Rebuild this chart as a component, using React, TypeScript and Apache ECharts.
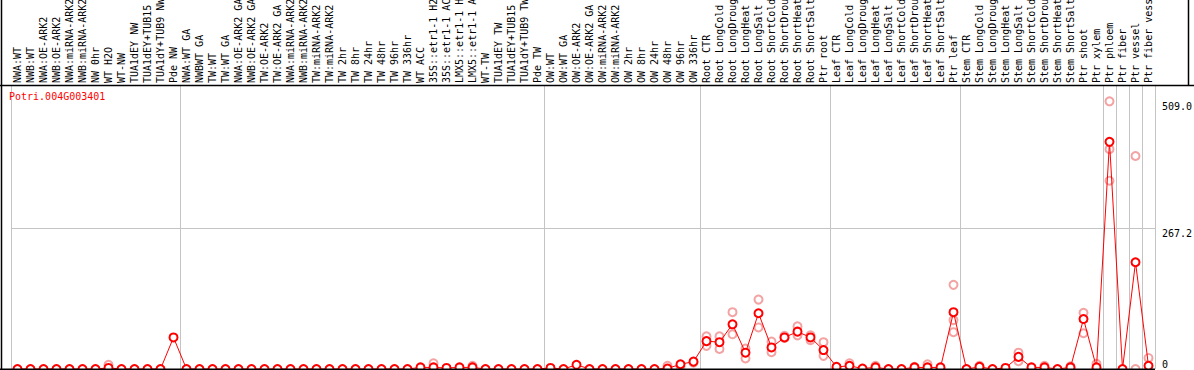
import React, { useEffect, useRef } from "react";
import * as echarts from "echarts";

const title = "Potri.004G003401";

const categories = [
  "NWA:WT", "NWB:WT", "NWA:OE-ARK2", "NWB:OE-ARK2", "NWA:miRNA-ARK2", "NWB:miRNA-ARK2", "NW 0hr", "WT H2O", "WT-NW", "TUA1dEY NW", "TUA1dEY+TUB15 NW", "TUA1dY+TUB9 NW", "Pde NW",
  "NWA:WT GA", "NWBWT GA", "TW:WT", "TW:WT GA", "NWA:OE-ARK2 GA", "NWB:OE-ARK2 GA", "TW:OE-ARK2", "TW:OE-ARK2 GA", "NWA:miRNA-ARK2", "NWB:miRNA-ARK2", "TW:miRNA-ARK2", "TW:miRNA-ARK2", "TW 2hr", "TW 8hr", "TW 24hr", "TW 48hr", "TW 96hr", "TW 336hr", "WT ACC", "35S::etr1-1 H2O", "35S::etr1-1 ACC", "LMX5::etr1-1 H2O", "LMX5::etr1-1 ACC", "WT-TW", "TUA1dEY TW", "TUA1dEY+TUB15 TW", "TUA1dY+TUB9 TW", "Pde TW",
  "OW:WT", "OW:WT GA", "OW:OE-ARK2", "OW:OE-ARK2 GA", "OW:miRNA-ARK2", "OW:miRNA-ARK2", "OW 2hr", "OW 8hr", "OW 24hr", "OW 48hr", "OW 96hr", "OW 336hr",
  "Root CTR", "Root LongCold", "Root LongDrought", "Root LongHeat", "Root LongSalt", "Root ShortCold", "Root ShortDrought", "Root ShortHeat", "Root ShortSalt", "Ptr root",
  "Leaf CTR", "Leaf LongCold", "Leaf LongDrought", "Leaf LongHeat", "Leaf LongSalt", "Leaf ShortCold", "Leaf ShortDrought", "Leaf ShortHeat", "Leaf ShortSalt", "Ptr leaf",
  "Stem CTR", "Stem LongCold", "Stem LongDrought", "Stem LongHeat", "Stem LongSalt", "Stem ShortCold", "Stem ShortDrought", "Stem ShortHeat", "Stem ShortSalt", "Ptr shoot",
  "Ptr xylem", "Ptr phloem", "Ptr fiber", "Ptr vessel", "Ptr fiber vessel",
];

const meanValues = [
  0, 0, 0, 0, 0, 0, 0, 2, 0, 0, 0, 0, 60,
  0, 0, 0, 0, 0, 0, 0, 0, 0, 0, 0, 0, 0, 0, 0, 0, 0, 0, 3, 3, 2, 3, 3, 0, 0, 0, 0, 0,
  2, 0, 8, 0, 0, 0, 0, 0, 0, 1, 9, 14,
  53, 51, 85, 31, 106, 41, 60, 71, 60, 36,
  4, 6, 1, 3, 0, 0, 3, 3, 3, 108,
  0, 4, 0, 2, 23, 3, 3, 0, 3, 95,
  3, 432, 0, 203, 6,
];

const replicateIndex = [7, 32, 35, 50, 51, 52, 53, 53, 54, 54, 55, 55, 56, 56, 57, 57, 58, 58, 59, 59, 60, 60, 61, 61, 62, 62, 64, 66, 69, 70, 72, 72, 72, 74, 77, 77, 79, 81, 82, 82, 83, 84, 84, 84, 86, 86, 87];
const replicateValues = [8, 11, 6, 6, 5, 12, 62, 44, 62, 38, 108, 66, 39, 20, 132, 79, 52, 32, 59, 63, 81, 64, 64, 55, 51, 25, 11, 6, 4, 9, 160, 70, 93, 6, 31, 15, 6, 5, 107, 68, 10, 509, 418, 358, 405, 0, 21];

const upperTicks = [267.2, 509.0];
const zeroTick = [0];
const separatorIndices = [0, 13, 41, 53, 63, 73, 84, 85, 86, 87, 88];

const FONT = "DejaVu Sans Mono";
const GRAY = "#c4c4c4";

export default function App() {
  const ref = useRef<HTMLDivElement>(null);
  useEffect(() => {
    const chart = echarts.init(ref.current!, null, { renderer: "svg" });
    const sepFn = (i: number) => separatorIndices.includes(i);
    chart.setOption({
      animation: false,
      backgroundColor: "#ffffff",
      title: {
        text: title,
        left: 9,
        top: 91,
        padding: 0,
        textStyle: { color: "#ff0000", fontSize: 10, fontFamily: FONT, fontWeight: "normal" },
      },
      grid: { left: 11, right: 39, top: 85, bottom: 1, containLabel: false, outerBoundsMode: "none" },
      xAxis: [
        {
          type: "category",
          position: "top",
          data: categories,
          boundaryGap: true,
          axisLine: { show: false },
          axisTick: { show: true, interval: sepFn, length: 85, lineStyle: { color: GRAY, width: 1 } },
          axisLabel: {
            interval: 0,
            rotate: 90,
            margin: 2,
            align: "left",
            verticalAlign: "middle",
            padding: [5, 0, 0, 0],
            fontFamily: FONT,
            fontSize: 10,
            color: "#000",
          },
          splitLine: { show: true, interval: sepFn, lineStyle: { color: GRAY, width: 1 } },
        },
      ],
      yAxis: [
        {
          type: "value",
          position: "right",
          min: 0,
          max: 540,
          axisLine: { show: false },
          axisTick: { show: false },
          splitLine: { show: false },
          axisLabel: {
            customValues: upperTicks,
            verticalAlign: "top",
            margin: 7,
            fontFamily: FONT,
            fontSize: 10,
            color: "#000",
            formatter: (v: number) => v.toFixed(1),
          },
        },
        {
          type: "value",
          position: "right",
          min: 0,
          max: 540,
          axisLine: { show: false },
          axisTick: { show: false },
          splitLine: { show: false },
          axisLabel: {
            customValues: zeroTick,
            verticalAlign: "bottom",
            margin: 7,
            fontFamily: FONT,
            fontSize: 10,
            color: "#000",
            formatter: () => "0",
          },
        },
      ],
      graphic: [
        { type: "line", silent: true, z: 100, shape: { x1: 1.5, y1: 0, x2: 1.5, y2: 370 }, style: { stroke: "#000", lineWidth: 1.5 } },
        { type: "line", silent: true, z: 100, shape: { x1: 0, y1: 85.5, x2: 1194, y2: 85.5 }, style: { stroke: "#000", lineWidth: 1.5 } },
        { type: "line", silent: true, z: 100, shape: { x1: 1188.5, y1: 0, x2: 1188.5, y2: 85 }, style: { stroke: "#000", lineWidth: 1.5 } },
        { type: "line", silent: true, z: 100, shape: { x1: 0, y1: 369.2, x2: 1155, y2: 369.2 }, style: { stroke: "#000", lineWidth: 1.5 } },
      ],
      series: [
        {
          type: "scatter",
          data: replicateIndex.map((idx, k) => [idx, replicateValues[k]]),
          symbol: "emptyCircle",
          symbolSize: 8,
          itemStyle: { color: "#f08c8c", borderColor: "#f08c8c", borderWidth: 1.2 },
          z: 2,
          silent: true,
        },
        {
          type: "line",
          data: meanValues,
          symbol: "emptyCircle",
          symbolSize: 8,
          showAllSymbol: true,
          lineStyle: { color: "#ff0000", width: 1 },
          itemStyle: { color: "#ff0000", borderColor: "#ff0000", borderWidth: 1.6 },
          z: 3,
          silent: true,
          markLine: {
            silent: true,
            symbol: "none",
            label: { show: false },
            lineStyle: { color: GRAY, type: "solid", width: 1 },
            data: [{ yAxis: upperTicks[0] }],
            z: 1,
          },
        },
      ],
    });
    return () => chart.dispose();
  }, []);
  return <div ref={ref} style={{ position: "fixed", left: 0, top: 0, width: 1194, height: 370 }} />;
}
